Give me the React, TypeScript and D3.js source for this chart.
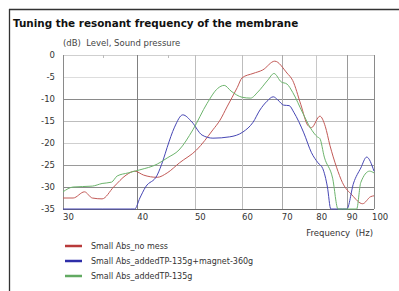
import React from "react";
import * as d3 from "d3";

const title = "Tuning the resonant frequency of the membrane";
const yAxisTitle = "(dB)  Level, Sound pressure";
const xAxisTitle = "Frequency  (Hz)";
const xTicks = [30, 40, 50, 60, 70, 80, 90, 100];
const yTicks = [0, -5, -10, -15, -20, -25, -30, -35];
const seriesNames = ["Small Abs_no mess", "Small Abs_addedTP-135g+magnet-360g", "Small Abs_addedTP-135g"];

const redFreq = [30, 31.2, 32.6, 33.6, 34.9, 36.5, 38.3, 39.6, 41.0, 43.2, 44.9, 47.1, 50.3, 53.6, 55.1, 56.6, 58.9, 60, 62.6, 65, 68.1, 71.4, 73, 75.3, 77.4, 78.5, 81.1, 82.8, 84.3, 86.5, 88.5, 91.8, 95.7, 98.7, 100];
const redDb = [-32.5, -32.5, -31.1, -32.5, -32.7, -30, -27.3, -26.4, -27.3, -27.8, -26.8, -24.5, -21.6, -17, -14.8, -11.8, -7.4, -5.2, -4.2, -3.4, -1.4, -4.1, -5.8, -11.2, -16, -16.5, -13.9, -16.2, -20.5, -25.5, -29, -31.8, -33.8, -32.2, -32];

const blueFreq = [30, 35, 39.0, 39.6, 40.4, 41.3, 43.2, 44.2, 44.9, 46.2, 47.7, 49.4, 51.4, 53.6, 57.2, 60.2, 62.6, 64.3, 66.1, 67.7, 68.9, 70.5, 72, 73.3, 76.2, 78.5, 80.5, 82, 83.5, 84.6, 86, 88.5, 90, 92.4, 95, 97.2, 100];
const blueDb = [-38, -38, -37, -35, -32.5, -30, -27.3, -23.9, -21, -16.4, -13.6, -15.2, -18.2, -18.9, -18.6, -17.5, -15.3, -12.5, -10.5, -9.5, -10.2, -11.4, -11.5, -13, -17.7, -22.2, -24.5, -25.8, -30, -35, -38, -38, -35, -29.1, -25.7, -23.2, -26.4];

const greenFreq = [30, 31.2, 33.6, 34.9, 36.2, 37, 38.6, 40.4, 43.2, 44.9, 47, 49.6, 52.4, 54.6, 56, 57.5, 60, 62, 63.8, 66.3, 67.9, 69.8, 71.4, 73, 75.9, 78.2, 80.3, 81.1, 82.5, 85.2, 87, 88.5, 91, 93.5, 95, 98.3, 100];
const greenDb = [-31.1, -30, -29.8, -29.2, -28.9, -27.5, -26.8, -26.1, -24.8, -23.4, -21.6, -17, -11, -7.6, -6.9, -8.2, -9.6, -9.8, -8.4, -5.7, -4.2, -6.1, -6.6, -8.5, -13.2, -16.6, -18.6, -19, -23.2, -28, -35, -38, -38, -35, -29, -26.4, -26.8];

const W = 399;
const H = 291;
const left = 63;
const right = 374;
const top = 55;
const bottom = 209;

const lineColors = ["#c25a57", "#4646b4", "#6cb46c"];
const legendColors = ["#b83a3a", "#2e2ea8", "#62aa62"];
const hGridColors = ["#cfcfcf", "#dddddd", "#8a8a8a", "#bdbdbd", "#cfcfcf", "#9a9a9a", "#8a8a8a", "#6a6a6a"];
const vGridColors = ["#8a8a8a", "#808080", "#bdbdbd", "#bdbdbd", "#aaaaaa", "#c8c8c8", "#9a9a9a", "#8a8a8a"];

export default function App() {
  const x = d3.scaleLog().domain([30, 100]).range([left, right]);
  const y = d3.scaleLinear().domain([-35, 0]).range([bottom, top]);
  const line = d3
    .line<[number, number]>()
    .x((d) => x(d[0]))
    .y((d) => y(Math.max(d[1], -35)))
    .curve(d3.curveMonotoneX);

  const series = [
    d3.zip(redFreq, redDb) as [number, number][],
    d3.zip(blueFreq, blueDb) as [number, number][],
    d3.zip(greenFreq, greenDb) as [number, number][],
  ];
  const font = "DejaVu Sans, Verdana, sans-serif";
  const pre = { whiteSpace: "pre" } as React.CSSProperties;

  return (
    <svg width={W} height={H} style={{ position: "absolute", left: 0, top: 0, background: "#fff" }} fontFamily={font}>
      <rect x={0} y={0} width={W} height={H} fill="#fff" />
      <line x1={9} y1={9.5} x2={W} y2={9.5} stroke="#333" strokeWidth={1.3} />
      <line x1={9.5} y1={9} x2={9.5} y2={H} stroke="#333" strokeWidth={1.3} />
      <text x={13} y={27} fontSize={10.4} fontWeight="bold" fill="#111">{title}</text>
      <text x={63} y={46} fontSize={8.5} fill="#444" style={pre}>{yAxisTitle}</text>

      {yTicks.map((t, i) => (
        <g key={"h" + t}>
          <line x1={left} x2={right} y1={Math.round(y(t)) + 0.5} y2={Math.round(y(t)) + 0.5} stroke={hGridColors[i]} strokeWidth={1} />
          <text x={55} y={y(t) + 3} fontSize={8.5} fill="#333" textAnchor="end">{t === 0 ? "0" : "-" + Math.abs(t)}</text>
        </g>
      ))}
      {xTicks.map((t, i) => (
        <g key={"v" + t}>
          <line x1={Math.round(x(t)) + 0.5} x2={Math.round(x(t)) + 0.5} y1={top} y2={bottom} stroke={vGridColors[i]} strokeWidth={1} />
          <text x={x(t) + (t === 100 ? -2 : 0)} y={220} fontSize={8.5} fill="#333">{t}</text>
        </g>
      ))}
      {[35, 45].map((t) => (
        <line key={"m" + t} x1={Math.round(x(t)) + 0.5} x2={Math.round(x(t)) + 0.5} y1={top} y2={top + 3} stroke="#bbb" />
      ))}
      <text x={right - 1} y={236} fontSize={8.5} fill="#333" textAnchor="end" style={pre}>{xAxisTitle}</text>

      {series.map((s, i) => (
        <path key={"s" + i} d={line(s) || ""} fill="none" stroke={lineColors[i]} strokeWidth={1} />
      ))}

      {seriesNames.map((n, i) => (
        <g key={"l" + i}>
          <line x1={65} x2={82} y1={246 + i * 15} y2={246 + i * 15} stroke={legendColors[i]} strokeWidth={2.5} />
          <text x={91} y={249 + i * 15} fontSize={8} fill="#333">{n}</text>
        </g>
      ))}
    </svg>
  );
}
